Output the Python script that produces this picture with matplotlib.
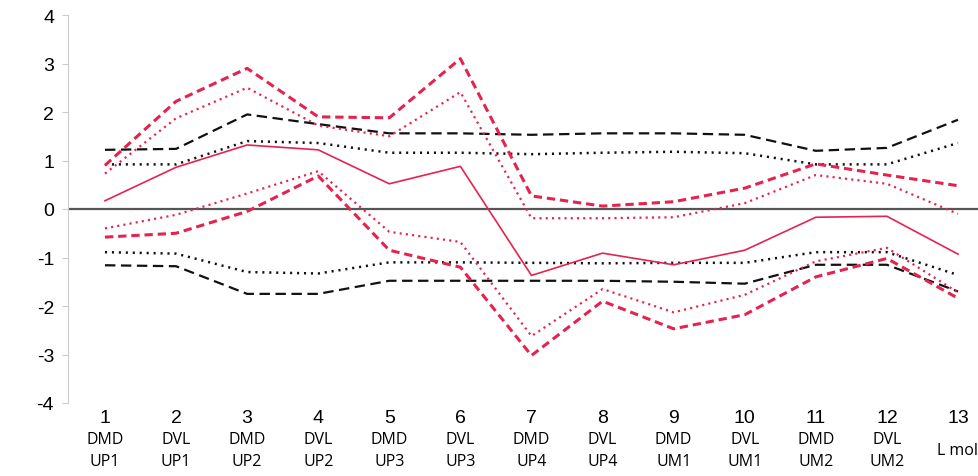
import numpy as np
import matplotlib
matplotlib.use("Agg")
import matplotlib.pyplot as plt
import matplotlib.transforms as mtransforms

plt.rcParams['font.family'] = ['Liberation Sans', 'DejaVu Sans']
plt.rcParams['lines.scale_dashes'] = False
plt.rcParams['axes.unicode_minus'] = False

x = np.arange(1, 14)
nums = [str(i) for i in x]
row1 = ['DMD', 'DVL', 'DMD', 'DVL', 'DMD', 'DVL', 'DMD', 'DVL', 'DMD', 'DVL', 'DMD', 'DVL', '']
row2 = ['UP1', 'UP1', 'UP2', 'UP2', 'UP3', 'UP3', 'UP4', 'UP4', 'UM1', 'UM1', 'UM2', 'UM2', '']
last_label = 'L mol'

# black reference bands
blk_dash_up = [1.22, 1.24, 1.95, 1.75, 1.56, 1.56, 1.53, 1.56, 1.56, 1.53, 1.2, 1.26, 1.84]
blk_dot_up = [0.92, 0.92, 1.4, 1.36, 1.16, 1.16, 1.13, 1.16, 1.18, 1.15, 0.92, 0.92, 1.36]
blk_dash_lo = [-1.16, -1.18, -1.75, -1.75, -1.48, -1.48, -1.48, -1.48, -1.5, -1.54, -1.15, -1.15, -1.7]
blk_dot_lo = [-0.89, -0.92, -1.3, -1.33, -1.1, -1.1, -1.11, -1.12, -1.11, -1.11, -0.89, -0.89, -1.36]

# red series
red_solid = [0.17, 0.86, 1.32, 1.22, 0.52, 0.88, -1.37, -0.91, -1.15, -0.85, -0.17, -0.15, -0.93]
red_dash_up = [0.9, 2.22, 2.9, 1.9, 1.88, 3.1, 0.27, 0.06, 0.15, 0.43, 0.93, 0.7, 0.48]
red_dot_up = [0.73, 1.87, 2.5, 1.72, 1.5, 2.41, -0.19, -0.19, -0.17, 0.12, 0.7, 0.52, -0.1]
red_dash_lo = [-0.58, -0.5, -0.05, 0.68, -0.85, -1.2, -3.02, -1.9, -2.47, -2.18, -1.4, -1.02, -1.84]
red_dot_lo = [-0.4, -0.12, 0.32, 0.78, -0.47, -0.68, -2.62, -1.65, -2.13, -1.77, -1.08, -0.8, -1.72]

red = '#e5234f'
fig = plt.figure(figsize=(9.79, 4.77), dpi=100)
ax = fig.add_axes([68/979, 73/477, 925.5/979, 388/477])

ax.axhline(0, color='#555555', lw=1.6, zorder=1)

ax.plot(x, blk_dash_up, color='#111111', lw=1.6, dashes=(7.5, 4))
ax.plot(x, blk_dash_lo, color='#111111', lw=1.6, dashes=(7.5, 4))
ax.plot(x, blk_dot_up, color='#111111', lw=1.8, dashes=(1.5, 3.5))
ax.plot(x, blk_dot_lo, color='#111111', lw=1.8, dashes=(1.5, 3.5))

ax.plot(x, red_solid, color=red, lw=1.2)
ax.plot(x, red_dash_up, color=red, lw=2.2, dashes=(6, 3.5))
ax.plot(x, red_dash_lo, color=red, lw=2.2, dashes=(6, 3.5))
ax.plot(x, red_dot_up, color=red, lw=1.6, dashes=(1.5, 3))
ax.plot(x, red_dot_lo, color=red, lw=1.6, dashes=(1.5, 3))

ax.set_xlim(0.48, 13.5)
ax.set_ylim(-4, 4)
ax.set_yticks(range(-4, 5))
ax.tick_params(axis='y', labelsize=14, length=4, color='#cccccc', pad=6)
ax.set_xticks([])
for s in ['top', 'right', 'bottom']:
    ax.spines[s].set_visible(False)
ax.spines['left'].set_color('#cccccc')

trans = mtransforms.blended_transform_factory(ax.transData, ax.transAxes)
lab_font = ['Open Sans', 'DejaVu Sans']
for i in range(13):
    ax.text(x[i], -0.015, nums[i], transform=trans, ha='center', va='top', fontsize=14)
    if row1[i]:
        ax.text(x[i], -0.073, row1[i], transform=trans, ha='center', va='top',
                fontsize=11.5, family=lab_font)
        ax.text(x[i], -0.128, row2[i], transform=trans, ha='center', va='top',
                fontsize=11.5, family=lab_font)
ax.text(x[12], -0.1, last_label, transform=trans, ha='center', va='top',
        fontsize=11.5, family=lab_font)

fig.savefig('out.png', dpi=100)
